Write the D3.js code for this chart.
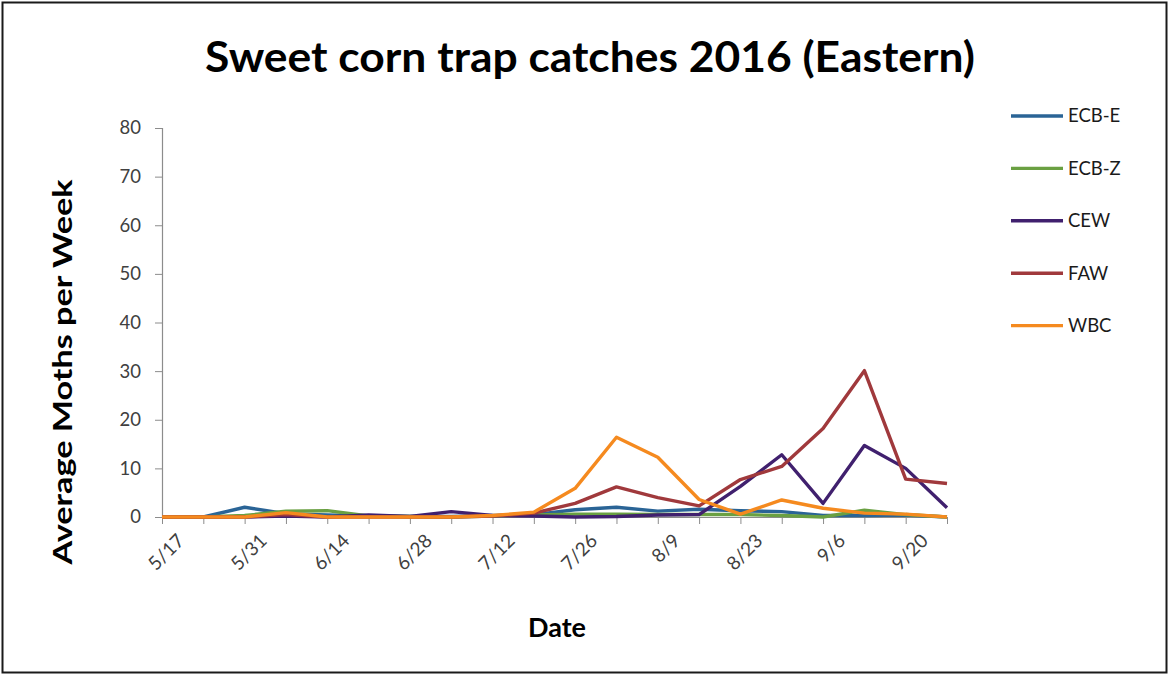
<!DOCTYPE html>
<html>
<head>
<meta charset="utf-8">
<script src="https://cdn.jsdelivr.net/npm/d3@7"></script>
<style>
  html, body { margin: 0; padding: 0; background: #fff; }
  svg { display: block; }
  text { font-family: Lato, "Open Sans", sans-serif; }
</style>
</head>
<body>
<svg id="chart" width="1170" height="677"></svg>
<script>
// Weekly sampling dates (every week; every second one is labelled)
const weeks = ["5/17","5/24","5/31","6/7","6/14","6/21","6/28","7/5","7/12","7/19",
               "7/26","8/2","8/9","8/16","8/23","8/30","9/6","9/13","9/20","9/27"];

// Average moths per trap per week
const ecbE = [0,0,2.0,0.7,0.4,0.2,0.1,0.1,0.3,0.5,1.5,2.0,1.2,1.6,1.3,1.1,0.3,0.3,0.4,0];
const ecbZ = [0,0,0.3,1.2,1.3,0.2,0.1,0,0.2,0.4,0.6,0.6,0.5,0.5,0.5,0.3,0,1.4,0.5,0];
const cew  = [0,0,0,0.2,0,0.4,0.1,1.1,0.3,0.2,0,0.1,0.4,0.5,6.3,12.8,2.8,14.7,10.0,1.9];
const faw  = [0,0,0,0.5,0,0,0,0,0.2,0.8,2.8,6.2,4.0,2.3,7.7,10.4,18.2,30.1,7.8,6.9];
const wbc  = [0,0,0,0.9,0,0,0,0,0.3,1.0,5.9,16.4,12.3,3.6,0.6,3.5,1.8,0.8,0.6,0];

const seriesNames = ["ECB-E","ECB-Z","CEW","FAW","WBC"];
const seriesColors = ["#2a6496","#6aa042","#40206e","#a0393c","#f58a1f"];
const yTicks = [0,10,20,30,40,50,60,70,80];

const series = [ecbE, ecbZ, cew, faw, wbc].map((vals, i) => ({
  name: seriesNames[i], color: seriesColors[i], values: vals
}));

const svg = d3.select("#chart");

// Outer frame
svg.append("rect")
  .attr("x", 2.5).attr("y", 2.5).attr("width", 1164).attr("height", 670)
  .attr("fill", "#fff").attr("stroke", "#1a1a1a").attr("stroke-width", 2);

const x = d3.scalePoint().domain(weeks).range([162, 947]);
const y = d3.scaleLinear().domain([0, 80]).range([517, 128]);

// Title
svg.append("text")
  .attr("x", 590).attr("y", 72)
  .attr("text-anchor", "middle")
  .attr("font-size", 42).attr("font-weight", 700)
  .attr("textLength", 770).attr("lengthAdjust", "spacingAndGlyphs")
  .attr("fill", "#000")
  .text("Sweet corn trap catches 2016 (Eastern)");

// Y axis
const yAxis = svg.append("g")
  .attr("transform", "translate(162,0)")
  .call(d3.axisLeft(y).tickValues(yTicks).tickSize(7).tickPadding(14).tickFormat(d3.format("d")));
yAxis.select(".domain").attr("stroke", "#8c8c8c").attr("stroke-width", 1.2);
yAxis.selectAll(".tick line").attr("stroke", "#8c8c8c");
yAxis.selectAll(".tick text").attr("font-size", 18.5).attr("fill", "#404040")
  .attr("font-family", "Lato, sans-serif");

// X axis: tick every week, label every other week
const xAxis = svg.append("g")
  .attr("transform", "translate(0,517)")
  .call(d3.axisBottom(x).tickSize(7).tickSizeOuter(0)
    .tickFormat((d, i) => i % 2 === 0 ? d : ""));
xAxis.select(".domain").attr("stroke", "#8c8c8c").attr("stroke-width", 1.2);
xAxis.selectAll(".tick line").attr("stroke", "#8c8c8c");
xAxis.selectAll(".tick text")
  .attr("font-size", 19).attr("fill", "#404040")
  .attr("text-anchor", "end")
  .attr("dy", 0)
  .attr("y", 0).attr("x", 0)
  .attr("transform", "translate(23,25) rotate(-45)");

// Axis titles
svg.append("text")
  .attr("x", 557).attr("y", 637)
  .attr("text-anchor", "middle")
  .attr("font-size", 27).attr("font-weight", 700).attr("fill", "#000")
  .text("Date");

svg.append("text")
  .attr("transform", "translate(72,372) rotate(-90)")
  .attr("text-anchor", "middle")
  .attr("font-size", 27).attr("font-weight", 700).attr("fill", "#000")
  .attr("textLength", 385).attr("lengthAdjust", "spacingAndGlyphs")
  .text("Average Moths per Week");

// Series lines
const line = d3.line()
  .x((d, i) => x(weeks[i]))
  .y(d => y(d));

svg.append("g").selectAll("path")
  .data(series)
  .join("path")
  .attr("d", d => line(d.values))
  .attr("fill", "none")
  .attr("stroke", d => d.color)
  .attr("stroke-width", 3.4)
  .attr("stroke-linejoin", "round");

// Legend
const legend = svg.append("g").selectAll("g")
  .data(series)
  .join("g")
  .attr("transform", (d, i) => `translate(1011,${116 + i * 52.4})`);

legend.append("line")
  .attr("x1", 0).attr("x2", 52).attr("y1", 0).attr("y2", 0)
  .attr("stroke", d => d.color).attr("stroke-width", 3.4);

legend.append("text")
  .attr("x", 57).attr("y", 0).attr("dy", "0.35em")
  .attr("font-size", 18.5).attr("fill", "#1a1a1a")
  .text(d => d.name);
</script>
</body>
</html>
